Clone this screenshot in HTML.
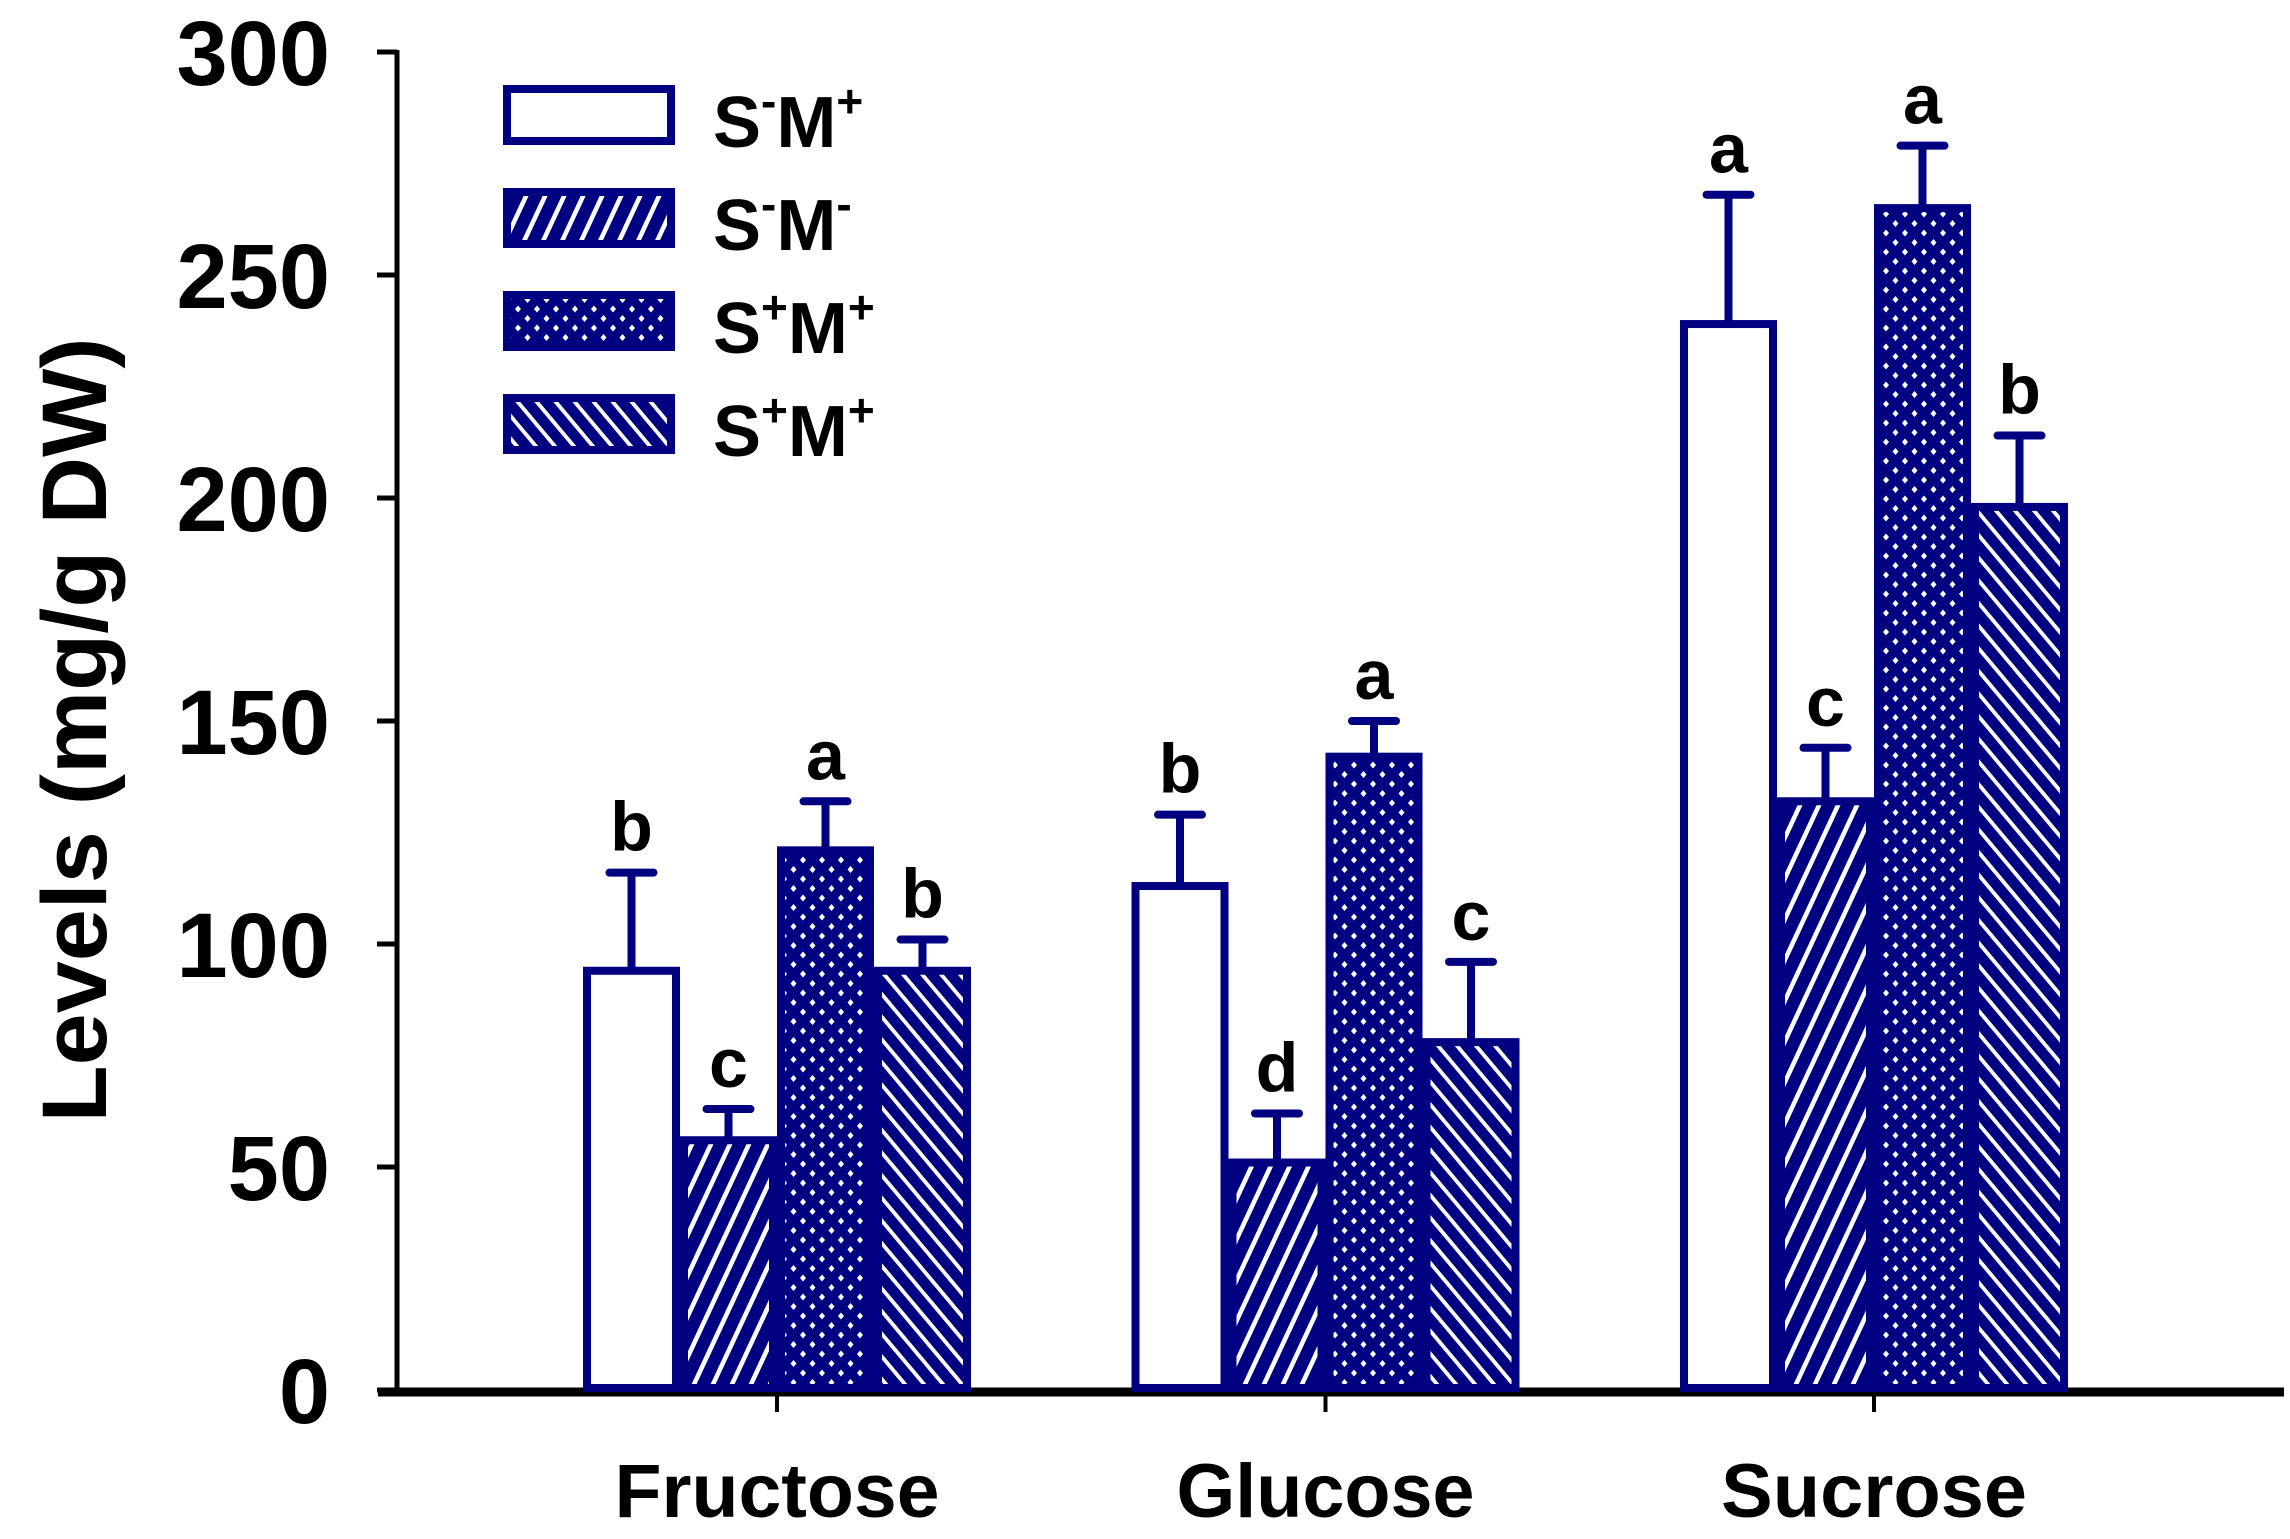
<!DOCTYPE html>
<html><head><meta charset="utf-8"><style>
html,body{margin:0;padding:0;background:#fff;}
svg{display:block;font-family:"Liberation Sans",Arial,sans-serif;font-weight:bold;}
</style></head><body>
<svg id="chart" width="2290" height="1539" viewBox="0 0 2290 1539" xmlns="http://www.w3.org/2000/svg">
<defs>
<pattern id="fwd" patternUnits="userSpaceOnUse" width="19" height="19" patternTransform="skewX(-25)">
<rect width="19" height="19" fill="#000080"/><rect x="7" width="5" height="19" fill="#fff"/>
</pattern>
<pattern id="bwd" patternUnits="userSpaceOnUse" width="19" height="19" patternTransform="skewX(40)">
<rect width="19" height="19" fill="#000080"/><rect x="7" width="5" height="19" fill="#fff"/>
</pattern>
<pattern id="dots" patternUnits="userSpaceOnUse" width="19" height="19">
<rect width="19" height="19" fill="#000080"/>
<path d="M5 1.5 L8 5 L5 8.5 L2 5Z M14.5 11 L17.5 14.5 L14.5 18 L11.5 14.5Z" fill="#fff"/>
</pattern>
</defs>
<g id="axes"></g>
<g id="bars"></g>
<g id="legend"></g>
</svg>
<script>
const categories = ["Fructose", "Glucose", "Sucrose"];
const seriesNames = ["S-M+", "S-M-", "S+M+", "S+M+ (2)"];
const valsSmMp = [94, 113, 239];
const valsSmMm = [56, 51, 132];
const valsSpMp = [121, 142, 265];
const valsSpMp2 = [94, 78, 198];
const errSmMp = [22, 16, 29];
const errSmMm = [7, 11, 12];
const errSpMp = [11, 8, 14];
const errSpMp2 = [7, 18, 16];
const lettersSmMp = ["b", "b", "a"];
const lettersSmMm = ["c", "d", "c"];
const lettersSpMp = ["a", "a", "a"];
const lettersSpMp2 = ["b", "c", "b"];
const yTicks = [0, 50, 100, 150, 200, 250, 300];

const NS = "http://www.w3.org/2000/svg";
const X0 = 397, X1 = 2284, Y0 = 1390, YTOP = 52;
const yScale = v => Y0 - (v - 0) / (300 - 0) * (Y0 - YTOP);
const firstCenter = 777, lastCenter = 1874;
const xCenter = i => firstCenter + i * (lastCenter - firstCenter) / (categories.length - 1);
const BW = 97;
function mk(tag, attrs, parent) {
  const e = document.createElementNS(NS, tag);
  for (const k in attrs) e.setAttribute(k, attrs[k]);
  parent.appendChild(e);
  return e;
}
const axes = document.getElementById('axes');
const yAxis = mk('line', {x1: X0, y1: YTOP - 2, x2: X0, y2: Y0, stroke: '#000', 'stroke-width': 5}, axes);


yTicks.forEach(t => {
  const y = yScale(t);
  const tk = mk('line', {x1: 377, y1: y, x2: X0, y2: y, stroke: '#000', 'stroke-width': 5}, axes);
  
  
  const lb = mk('text', {x: 330, y: y + 33, 'text-anchor': 'end', 'font-size': 92, fill: '#000'}, axes);
  lb.textContent = t;
  
  
});
const xAxis = mk('line', {x1: 378, y1: Y0 + 2, x2: X1, y2: Y0 + 2, stroke: '#000', 'stroke-width': 9}, axes);


const catWidths = [325, 298, 306];
categories.forEach((c, i) => {
  const x = xCenter(i);
  const tk = mk('line', {x1: x, y1: Y0, x2: x, y2: 1412, stroke: '#000', 'stroke-width': 4}, axes);
  
  
  const lb = mk('text', {x: x, y: 1517, 'text-anchor': 'middle', 'font-size': 76, textLength: catWidths[i], lengthAdjust: 'spacingAndGlyphs', fill: '#000'}, axes);
  lb.textContent = c;
  
  
});
const yt = mk('text', {x: 0, y: 0, transform: 'translate(106,730) rotate(-90)', 'text-anchor': 'middle', 'font-size': 92, textLength: 785, lengthAdjust: 'spacingAndGlyphs', fill: '#000'}, axes);
yt.textContent = 'Levels (mg/g DW)';



const series = [
  {vals: valsSmMp, err: errSmMp, let: lettersSmMp, fill: '#fff'},
  {vals: valsSmMm, err: errSmMm, let: lettersSmMm, fill: 'url(#fwd)'},
  {vals: valsSpMp, err: errSpMp, let: lettersSpMp, fill: 'url(#dots)'},
  {vals: valsSpMp2, err: errSpMp2, let: lettersSpMp2, fill: 'url(#bwd)'}
];
const bars = document.getElementById('bars');
series.forEach((s, si) => {
  categories.forEach((c, ci) => {
    const left = xCenter(ci) - 2 * BW + si * BW;
    const top = yScale(s.vals[ci]);
    const cx = left + BW / 2;
    const ey = yScale(s.vals[ci] + s.err[ci]);
    const el = mk('line', {x1: cx, y1: top, x2: cx, y2: ey, stroke: '#000080', 'stroke-width': 8}, bars);
    
    
    const cap = mk('line', {x1: cx - 22, y1: ey, x2: cx + 22, y2: ey, stroke: '#000080', 'stroke-width': 8, 'stroke-linecap': 'round'}, bars);
    
    
    const r = mk('rect', {x: left + 4, y: top, width: BW - 8, height: Y0 - top - 2, fill: s.fill, stroke: '#000080', 'stroke-width': 8}, bars);
    
    
    const lt = mk('text', {x: cx, y: ey - 22, 'text-anchor': 'middle', 'font-size': 70, fill: '#000'}, bars);
    lt.textContent = s.let[ci];
    
    
  });
});

const legend = document.getElementById('legend');
const legTops = [89, 192, 295, 398];
const legSup = [["-", "+"], ["-", "-"], ["+", "+"], ["+", "+"]];
series.forEach((s, i) => {
  const r = mk('rect', {x: 507, y: legTops[i], width: 164, height: 52, fill: s.fill, stroke: '#000080', 'stroke-width': 8}, legend);
  
  
  const t = mk('text', {x: 713, y: legTops[i] + 58, 'font-size': 72, fill: '#000'}, legend);
  
  
  const a = mk('tspan', {}, t); a.textContent = 'S';
  const b = mk('tspan', {'font-size': 46, dy: -30}, t); b.textContent = legSup[i][0];
  const m = mk('tspan', {dy: 30}, t); m.textContent = 'M';
  const d = mk('tspan', {'font-size': 46, dy: -30}, t); d.textContent = legSup[i][1];
});
</script>
</body></html>
